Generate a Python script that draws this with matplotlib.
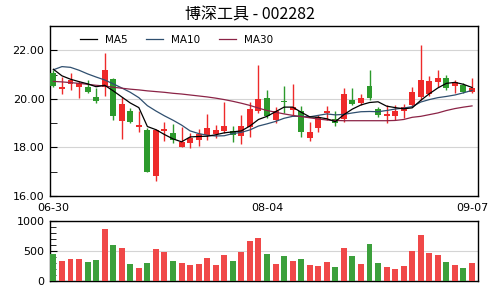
import matplotlib
matplotlib.use("Agg")
import matplotlib.pyplot as plt
import numpy as np

plt.rcParams['font.family'] = ['DejaVu Sans', 'Noto Sans CJK SC']

title = "博深工具 - 002282"
tick_idx = [0, 25, 49]
tick_labels = ["06-30", "08-04", "09-07"]

opens = [21.06, 20.40, 20.62, 20.50, 20.50, 20.08, 20.51, 20.80, 19.10, 19.52,
         18.83, 18.72, 16.80, 18.68, 18.60, 18.03, 18.20, 18.31, 18.52, 18.56,
         18.67, 18.69, 18.45, 18.83, 19.52, 20.03, 19.13, 19.92, 19.55, 19.48,
         18.38, 18.79, 19.43, 19.18, 19.16, 19.96, 19.82, 20.54, 19.59, 19.30,
         19.30, 19.48, 19.75, 20.09, 20.21, 20.71, 20.85, 20.54, 20.58, 20.30]
closes = [20.54, 20.50, 20.76, 20.65, 20.27, 19.90, 21.17, 19.30, 19.79, 19.06,
          18.93, 17.00, 18.72, 18.74, 18.30, 18.24, 18.38, 18.56, 18.79, 18.72,
          18.89, 18.53, 18.89, 19.58, 20.00, 19.30, 19.48, 19.88, 19.68, 18.65,
          18.65, 19.25, 19.50, 19.02, 20.21, 19.79, 20.03, 20.03, 19.34, 19.38,
          19.48, 19.66, 20.30, 20.76, 20.74, 20.88, 20.44, 20.69, 20.30, 20.44]
highs = [21.20, 20.90, 21.05, 20.75, 20.78, 20.45, 21.90, 20.85, 20.08, 19.63,
         19.52, 18.80, 18.75, 19.05, 18.95, 18.85, 18.58, 18.75, 19.38, 18.93,
         19.89, 18.88, 19.34, 19.89, 21.38, 20.37, 19.68, 20.54, 20.60, 19.70,
         19.06, 19.34, 19.71, 19.48, 20.44, 20.44, 20.20, 21.20, 19.68, 19.75,
         19.75, 19.79, 20.51, 22.23, 20.95, 21.20, 20.99, 20.76, 20.65, 20.85]
lows = [20.50, 20.22, 20.37, 20.04, 20.23, 19.83, 20.10, 19.13, 18.35, 19.01,
        18.65, 16.98, 16.62, 18.25, 18.17, 18.00, 17.98, 18.06, 18.30, 18.38,
        18.58, 18.23, 18.14, 18.42, 19.43, 19.20, 19.00, 19.40, 19.34, 18.42,
        18.28, 18.65, 19.13, 18.89, 19.06, 19.75, 19.75, 19.96, 19.25, 19.02,
        19.13, 19.20, 19.68, 19.96, 20.12, 20.51, 20.37, 20.23, 20.23, 20.26]
volumes = [448, 334, 368, 368, 315, 348, 862, 597, 550, 282,
           218, 300, 530, 481, 331, 300, 265, 282, 384, 265,
           431, 331, 484, 666, 713, 448, 282, 414, 331, 370,
           265, 249, 315, 232, 547, 414, 282, 613, 298, 232,
           204, 249, 497, 762, 464, 431, 315, 265, 221, 298]
ma5 = [21.22, 20.95, 20.81, 20.71, 20.62, 20.50, 20.56, 20.33, 20.08, 19.83,
       19.64, 18.86, 18.73, 18.53, 18.35, 18.23, 18.43, 18.45, 18.46, 18.52,
       18.60, 18.64, 18.68, 18.88, 19.15, 19.28, 19.47, 19.66, 19.66, 19.45,
       19.26, 19.24, 19.18, 19.06, 19.35, 19.58, 19.75, 19.85, 19.88, 19.70,
       19.64, 19.59, 19.63, 19.94, 20.21, 20.45, 20.64, 20.68, 20.60, 20.47]
ma10 = [21.20, 21.33, 21.30, 21.18, 21.03, 20.90, 20.78, 20.62, 20.45, 20.27,
        20.05, 19.72, 19.50, 19.30, 19.12, 18.92, 18.68, 18.57, 18.50, 18.47,
        18.48, 18.57, 18.62, 18.72, 18.88, 18.97, 19.07, 19.20, 19.28, 19.28,
        19.26, 19.32, 19.38, 19.34, 19.36, 19.42, 19.47, 19.48, 19.47, 19.52,
        19.58, 19.62, 19.68, 19.87, 19.97, 20.05, 20.10, 20.16, 20.25, 20.35]
ma30 = [20.72, 20.70, 20.67, 20.64, 20.60, 20.56, 20.53, 20.48, 20.44, 20.40,
        20.37, 20.33, 20.30, 20.27, 20.23, 20.20, 20.16, 20.12, 20.08, 20.03,
        19.97, 19.90, 19.82, 19.73, 19.62, 19.52, 19.45, 19.38, 19.32, 19.27,
        19.22, 19.17, 19.13, 19.11, 19.10, 19.10, 19.10, 19.10, 19.10, 19.10,
        19.11, 19.15, 19.24, 19.28, 19.35, 19.42, 19.52, 19.60, 19.66, 19.71]

RED = "#ee2a2a"
GREEN = "#2c9a2c"
VRED = "#f04848"
VGREEN = "#3ca03c"

x = np.arange(len(closes))
o = np.array(opens)
c = np.array(closes)
up = c >= o

fig = plt.figure(figsize=(5, 3), dpi=100)
ax = fig.add_axes([0.1, 0.347, 0.856, 0.566])
axv = fig.add_axes([0.1, 0.063, 0.856, 0.201])

# candles: wick + body
cols = [RED if u else GREEN for u in up]
ax.vlines(x, lows, highs, colors=cols, linewidth=1, zorder=2)
body_h = np.maximum(np.abs(c - o), 0.03)
ax.bar(x, body_h, bottom=np.minimum(o, c), width=0.7, color=cols, zorder=3)

ax.plot(x, ma5, color="black", lw=0.9, label="MA5", zorder=5)
ax.plot(x, ma10, color="#2f4f6f", lw=0.9, label="MA10", zorder=4)
ax.plot(x, ma30, color="#8b2346", lw=0.9, label="MA30", zorder=4)

ax.set_xlim(-0.4, 49.7)
ax.set_ylim(16, 23)
ax.set_yticks([16, 18, 20, 22])
ax.set_yticklabels(["16.00", "18.00", "20.00", "22.00"])
ax.set_yticks([17, 19, 21], minor=True)
ax.grid(axis="y", color="#d4d4d4", lw=0.8)
ax.set_axisbelow(True)
ax.set_xticks(tick_idx)
ax.set_xticklabels(tick_labels)
ax.tick_params(axis="y", direction="in", length=5, labelsize=8, pad=4)
ax.tick_params(axis="y", which="minor", direction="in", length=5)
ax.tick_params(axis="x", length=0, labelsize=8, pad=5)
ax.legend(loc="upper left", ncol=3, frameon=False, fontsize=7.5,
          handlelength=1.6, handletextpad=0.8, columnspacing=1.8,
          borderpad=0, borderaxespad=0, bbox_to_anchor=(0.07, 0.95))

vcols = [VRED if u else VGREEN for u in up]
axv.bar(x, volumes, width=0.7, color=vcols, zorder=3)
axv.set_xlim(-0.4, 49.7)
axv.set_ylim(0, 1000)
axv.set_yticks([0, 500, 1000])
axv.set_yticks(np.arange(100, 1000, 100), minor=True)
axv.grid(axis="y", color="#d4d4d4", lw=0.8)
axv.set_axisbelow(True)
axv.set_xticks([])
axv.tick_params(axis="y", direction="in", length=5, labelsize=8, pad=4)
axv.tick_params(axis="y", which="minor", direction="in", length=4)

for a in (ax, axv):
    for s in a.spines.values():
        s.set_linewidth(1)

fig.text(0.5, 0.95, title, ha="center", va="center", fontsize=11.5,
         family=["Noto Sans CJK SC", "DejaVu Sans"])

fig.savefig("out.png", dpi=100)
